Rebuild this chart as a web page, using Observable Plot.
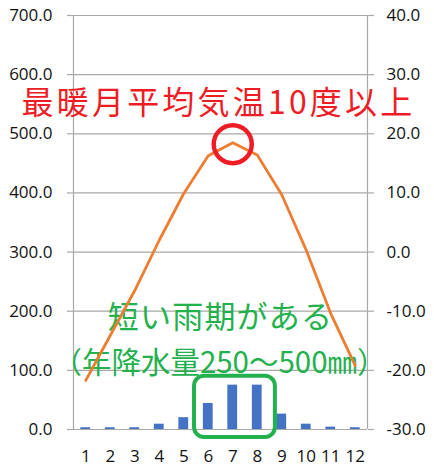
<!DOCTYPE html>
<html>
<head>
<meta charset="utf-8">
<script src="https://cdn.jsdelivr.net/npm/d3@7"></script>
<script src="https://cdn.jsdelivr.net/npm/@observablehq/plot@0.6"></script>
<style>
  html, body { margin: 0; padding: 0; background: #fff; }
  .redtext text { letter-spacing: 3.2px; }
  .greentext1 text { letter-spacing: 1.2px; }
  .greentext2 text { letter-spacing: 0px; }
</style>
</head>
<body>
<div id="chart"></div>
<script>
// ---- data ----
const months = [1, 2, 3, 4, 5, 6, 7, 8, 9, 10, 11, 12];
const precipitation = [3, 3, 3, 9, 20, 44, 75, 75, 26, 9, 4, 3];          // mm (left axis)
const temperature = [-21.7, -14.1, -6.5, 2.0, 9.9, 16.3, 18.5, 16.4, 9.7, 0.3, -10.4, -19.2]; // °C (right axis)
const precipTicks = [0, 100, 200, 300, 400, 500, 600, 700];
const tempDomain = [-30, 40];
const precipDomain = [0, 700];
const warmNote = ["最暖月平均気温10度以上"];
const rainNote1 = ["短い雨期がある"];
const rainNote2 = ["（年降水量250～500㎜）"];
const rainyMonths = [6, 7, 8];

// temperature -> left (precipitation) scale
const k = (precipDomain[1] - precipDomain[0]) / (tempDomain[1] - tempDomain[0]);
const t2p = t => (t - tempDomain[0]) * k;
const p2t = p => p / k + tempDomain[0];

const data = months.map((m, i) => ({m, p: precipitation[i], t: temperature[i]}));
const peakIdx = d3.maxIndex(temperature);
const peak = [data[peakIdx]];
const boxData = [{
  x1: d3.min(rainyMonths) - 0.56,
  x2: d3.max(rainyMonths) + 0.74,
  y1: -13.5,
  y2: d3.max(rainyMonths, m => precipitation[m - 1]) + 15
}];

const gray = "#a9a9a9";
const green = "#22b14c";
const red = "#ee1c25";
const ink = "#111";

const chart = Plot.plot({
  width: 434,
  height: 471,
  marginLeft: 73,
  marginRight: 67,
  marginTop: 15,
  marginBottom: 42,
  style: {fontFamily: "'Open Sans', 'Noto Sans', sans-serif", fontSize: "17px", background: "#fff", color: ink},
  x: {domain: [0.5, 12.5]},
  y: {domain: precipDomain},
  marks: [
    Plot.gridY(precipTicks, {stroke: gray, strokeOpacity: 1, strokeWidth: 1.2}),
    Plot.ruleX([0.5, 12.5], {stroke: gray, strokeWidth: 1.2}),
    Plot.axisY({ticks: precipTicks, tickFormat: d => d.toFixed(1), tickSize: 6, tickPadding: 15, stroke: gray, strokeWidth: 1.2, fill: ink, label: null, fontSize: 17}),
    Plot.axisY({anchor: "right", ticks: precipTicks, tickFormat: d => p2t(d).toFixed(1), tickSize: 6, tickPadding: 13, stroke: gray, strokeWidth: 1.2, fill: ink, label: null, fontSize: 17}),
    Plot.axisX({ticks: months, tickFormat: d => String(d), tickSize: 0, tickPadding: 20, fill: ink, label: null, fontSize: 17}),
    Plot.rectY(data, {x1: d => d.m - 0.2, x2: d => d.m + 0.2, y: "p", fill: "#4472c4"}),
    Plot.rect(boxData, {x1: "x1", x2: "x2", y1: "y1", y2: "y2", fill: "none", stroke: green, strokeWidth: 4, rx: 10, className: "hlbox"}),
    Plot.text(warmNote, {frameAnchor: "top", dx: -2, dy: 88, lineAnchor: "middle", fontSize: 32, fill: red, fontFamily: "'Noto Sans CJK JP'", className: "redtext"}),
    Plot.text(rainNote1, {frameAnchor: "top", dx: 0, dy: 303, lineAnchor: "middle", fontSize: 31, fill: green, fontFamily: "'Noto Sans CJK JP'", className: "greentext1"}),
    Plot.text(rainNote2, {frameAnchor: "top", dx: -1, dy: 348, lineAnchor: "middle", fontSize: 29.5, fill: green, fontFamily: "'Noto Sans CJK JP'", className: "greentext2"}),
    Plot.line(data, {x: "m", y: d => t2p(d.t), stroke: "#ed7d31", strokeWidth: 2.8}),
    Plot.dot(peak, {x: "m", y: d => t2p(d.t), r: 19, dy: 1.5, stroke: red, strokeWidth: 4.5, fill: "none"})
  ]
});
d3.select(chart).selectAll(".hlbox rect").attr("rx", 10).attr("ry", 10);
document.getElementById("chart").appendChild(chart);
</script>
</body>
</html>
